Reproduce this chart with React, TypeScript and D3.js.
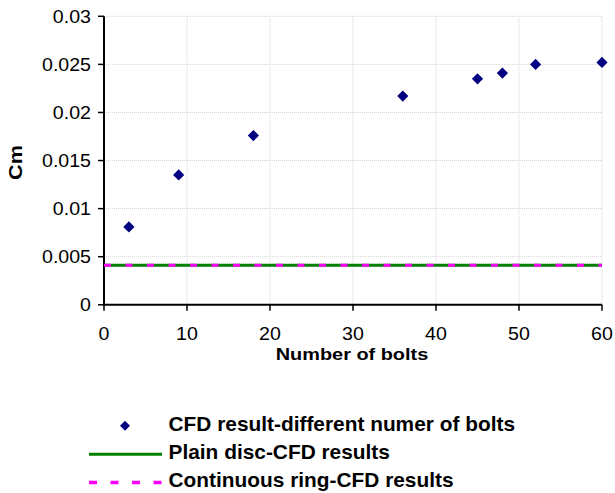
import React from "react";
import * as d3 from "d3";

const bolts = [3, 9, 18, 36, 45, 48, 52, 60];
const cmValues = [0.0081, 0.0135, 0.0176, 0.0217, 0.0235, 0.0241, 0.0250, 0.0252];
const plainDisc = [0.0041, 0.0041];
const continuousRing = [0.0041, 0.0041];
const lineX = [0, 60];
const xTicks = [0, 10, 20, 30, 40, 50, 60];
const yTicks = [0, 0.005, 0.01, 0.015, 0.02, 0.025, 0.03];
const legendLabels = [
  "CFD result-different numer of bolts",
  "Plain disc-CFD results",
  "Continuous ring-CFD results",
];

const W = 615;
const H = 493;
const FONT = "'Liberation Sans', Arial, sans-serif";

function SText(props: {
  x: number;
  y: number;
  sx: number;
  size: number;
  anchor?: string;
  bold?: boolean;
  rotate?: number;
  children: React.ReactNode;
}) {
  const { x, y, sx, size, anchor, bold, rotate, children } = props;
  return (
    <text
      transform={`translate(${x},${y})${rotate ? ` rotate(${rotate})` : ""} scale(${sx},1)`}
      textAnchor={anchor || "start"}
      fontSize={size}
      fontWeight={bold ? "bold" : "normal"}
      fill="#000"
    >
      {children}
    </text>
  );
}

export default function App() {
  const x = d3.scaleLinear().domain([0, 60]).range([104, 602]);
  const y = d3.scaleLinear().domain([0, 0.03]).range([304.8, 16.3]);
  const line = d3
    .line<number>()
    .x((_, i) => x(lineX[i]))
    .y((d) => y(d));
  const diamond = d3.symbol().type(d3.symbolDiamond2).size(80)();
  const diamondLeg = d3.symbol().type(d3.symbolDiamond2).size(64)();

  return (
    <svg
      width={W}
      height={H}
      style={{ position: "absolute", left: 0, top: 0, background: "#fff" }}
      fontFamily={FONT}
    >
      {/* gridlines */}
      {xTicks.slice(1).map((t) => (
        <line
          key={"gx" + t}
          x1={x(t)}
          x2={x(t)}
          y1={y(0)}
          y2={y(0.03)}
          stroke="#d4d4d4"
          strokeWidth={1}
          strokeDasharray="1,1"
        />
      ))}
      {yTicks.slice(1).map((t) => (
        <line
          key={"gy" + t}
          x1={x(0)}
          x2={x(60)}
          y1={y(t)}
          y2={y(t)}
          stroke="#d4d4d4"
          strokeWidth={1}
          strokeDasharray="1,1"
        />
      ))}
      {/* axes */}
      <line x1={x(0)} x2={x(0)} y1={y(0.03)} y2={y(0) + 1} stroke="#000" strokeWidth={2} />
      <line x1={x(0) - 1} x2={x(60)} y1={y(0)} y2={y(0)} stroke="#000" strokeWidth={2} />
      {yTicks.map((t) => (
        <g key={"yt" + t}>
          <line x1={x(0) - 6} x2={x(0)} y1={y(t)} y2={y(t)} stroke="#000" strokeWidth={1.5} />
          <SText x={91} y={y(t) + 6.3} sx={1.12} size={17.5} anchor="end">
            {String(t)}
          </SText>
        </g>
      ))}
      {xTicks.map((t) => (
        <g key={"xt" + t}>
          <line x1={x(t)} x2={x(t)} y1={y(0)} y2={y(0) + 6} stroke="#000" strokeWidth={1.5} />
          <SText x={x(t)} y={339.5} sx={1.12} size={17.5} anchor="middle">
            {String(t)}
          </SText>
        </g>
      ))}
      {/* axis titles */}
      <SText x={352} y={360} sx={1.17} size={17} anchor="middle" bold>
        Number of bolts
      </SText>
      <SText x={22} y={162.5} sx={1.2} size={18} anchor="middle" bold rotate={-90}>
        Cm
      </SText>
      {/* lines */}
      <path d={line(plainDisc) || ""} fill="none" stroke="#008000" strokeWidth={3} />
      <path
        d={line(continuousRing) || ""}
        fill="none"
        stroke="#ff00ff"
        strokeWidth={3}
        strokeDasharray="7,14.5"
      />
      {/* points */}
      {bolts.map((b, i) => (
        <path
          key={"p" + i}
          d={diamond}
          transform={`translate(${x(b)},${y(cmValues[i])})`}
          fill="#000080"
        />
      ))}
      {/* legend */}
      <path d={diamondLeg} transform="translate(125,425.7)" fill="#000080" />
      <line x1={89} x2={162} y1={454.3} y2={454.3} stroke="#008000" strokeWidth={3} />
      <line
        x1={89}
        x2={162}
        y1={482.5}
        y2={482.5}
        stroke="#ff00ff"
        strokeWidth={3.5}
        strokeDasharray="8,13.5"
      />
      {legendLabels.map((l, i) => (
        <SText key={l} x={168.5} y={431 + i * 28} sx={1.07} size={19.5} bold>
          {l}
        </SText>
      ))}
    </svg>
  );
}
